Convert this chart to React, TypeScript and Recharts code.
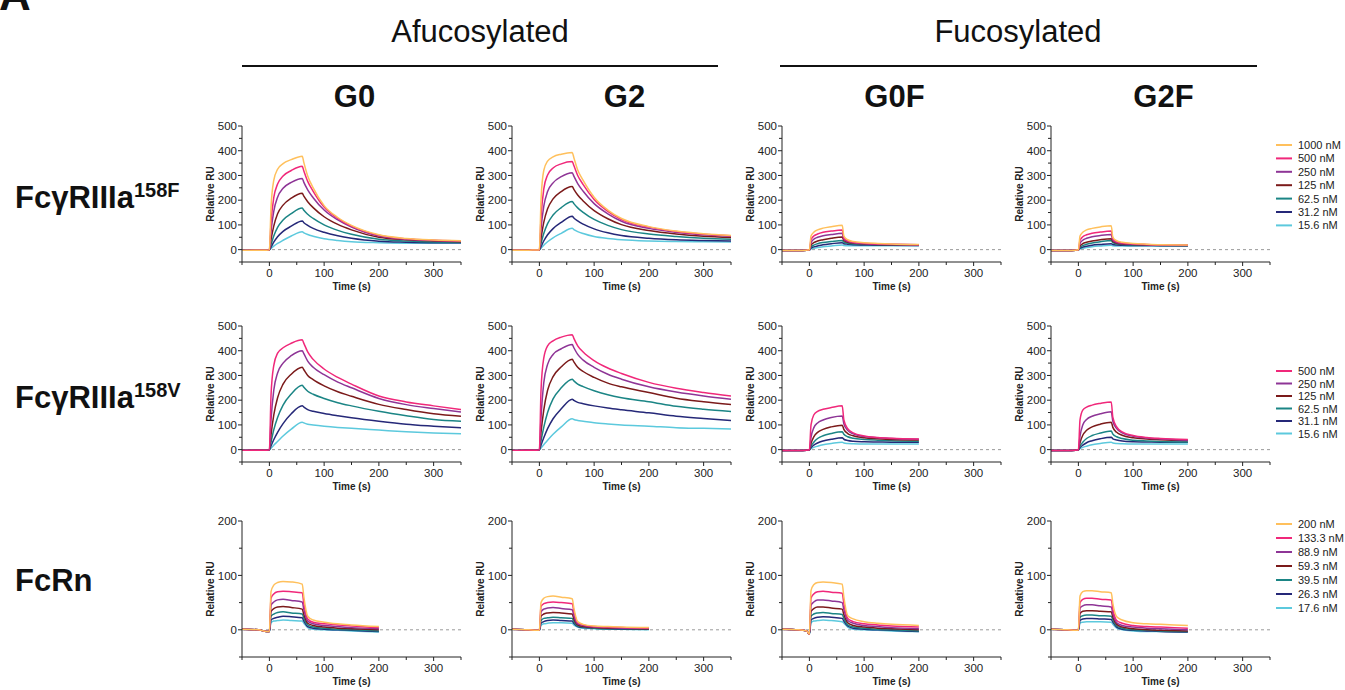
import { LineChart, Line, XAxis, YAxis, ReferenceLine } from 'recharts';

// time grids (s)
const T_LONG = [-50, -20, -5, 0, 3, 8, 15, 25, 40, 60, 63, 70, 80, 100, 125, 150, 200, 250, 300, 350];
const T_SHORT = [-50, -20, -5, 0, 3, 8, 15, 25, 40, 60, 63, 70, 80, 100, 125, 150, 200];

const CONC_158F = ['1000 nM', '500 nM', '250 nM', '125 nM', '62.5 nM', '31.2 nM', '15.6 nM'];
const CONC_158V = ['500 nM', '250 nM', '125 nM', '62.5 nM', '31.1 nM', '15.6 nM'];
const CONC_FCRN = ['200 nM', '133.3 nM', '88.9 nM', '59.3 nM', '39.5 nM', '26.3 nM', '17.6 nM'];

const COLORS7 = ['#FFC05C', '#F0287A', '#8E3596', '#7B1A1A', '#1B8585', '#252878', '#5CC9DD'];
const COLORS6 = ['#F0287A', '#8E3596', '#7B1A1A', '#1B8585', '#252878', '#5CC9DD'];

// FcγRIIIa 158F
const G0_158F = [
  [-3, -2, -2, -1, 170, 280, 325, 348, 364, 378, 352, 298, 250, 178, 130, 98, 60, 45, 39, 36],
  [-3, -2, -2, -1, 110, 210, 265, 298, 320, 337, 318, 276, 236, 172, 126, 95, 58, 44, 38, 35],
  [-3, -2, -2, -1, 75, 155, 212, 248, 272, 288, 272, 242, 210, 160, 120, 91, 55, 42, 37, 34],
  [-3, -2, -2, -1, 40, 95, 145, 180, 208, 228, 216, 194, 170, 133, 102, 80, 50, 40, 35, 32],
  [-3, -2, -2, -1, 20, 55, 90, 120, 146, 168, 159, 143, 126, 100, 78, 62, 42, 35, 31, 30],
  [-3, -2, -2, -1, 10, 30, 52, 74, 95, 116, 109, 98, 86, 70, 56, 46, 34, 30, 28, 28],
  [-3, -2, -2, -1, 5, 14, 25, 38, 55, 72, 68, 61, 54, 44, 37, 32, 28, 26, 26, 26],
];
const G2_158F = [
  [-2, -2, -1, -1, 200, 320, 358, 375, 386, 393, 372, 322, 280, 212, 160, 126, 93, 75, 64, 57],
  [-2, -2, -1, -1, 130, 245, 302, 330, 347, 356, 340, 300, 263, 203, 155, 122, 91, 73, 62, 56],
  [-2, -2, -1, -1, 85, 175, 235, 270, 295, 311, 297, 267, 236, 186, 145, 115, 86, 70, 60, 54],
  [-2, -2, -1, -1, 45, 110, 165, 205, 235, 255, 244, 221, 197, 158, 125, 101, 77, 63, 54, 49],
  [-2, -2, -1, -1, 25, 65, 105, 140, 170, 195, 186, 169, 151, 122, 98, 81, 63, 53, 46, 42],
  [-2, -2, -1, -1, 12, 35, 60, 85, 110, 135, 128, 116, 103, 84, 68, 57, 46, 40, 37, 35],
  [-2, -2, -1, -1, 6, 18, 32, 48, 66, 86, 81, 73, 65, 53, 45, 40, 35, 33, 32, 31],
];
const G0F_158F = [
  [-3, -3, -2, -1, 55, 70, 80, 87, 93, 99, 55, 40, 33, 28, 25, 23, 21],
  [-3, -3, -2, -1, 40, 55, 63, 70, 75, 79, 47, 36, 30, 26, 23, 22, 20],
  [-3, -3, -2, -1, 28, 42, 50, 56, 61, 66, 42, 33, 28, 24, 22, 21, 20],
  [-3, -3, -2, -1, 18, 28, 35, 40, 46, 51, 37, 30, 26, 23, 21, 20, 19],
  [-3, -3, -2, -1, 10, 18, 24, 29, 33, 37, 30, 26, 23, 21, 20, 19, 18],
  [-3, -3, -2, -1, 6, 11, 15, 20, 24, 28, 24, 22, 20, 19, 18, 18, 17],
  [-3, -3, -2, -1, 3, 6, 9, 12, 15, 19, 17, 16, 16, 16, 16, 16, 16],
];
const G2F_158F = [
  [-3, -3, -2, -1, 55, 70, 80, 86, 92, 97, 50, 36, 30, 25, 22, 20, 19],
  [-3, -3, -2, -1, 38, 52, 60, 66, 71, 75, 44, 32, 27, 23, 21, 19, 18],
  [-3, -3, -2, -1, 25, 38, 46, 52, 57, 61, 38, 29, 25, 22, 20, 19, 18],
  [-3, -3, -2, -1, 14, 24, 30, 35, 40, 44, 33, 26, 23, 21, 19, 18, 17],
  [-3, -3, -2, -1, 8, 16, 22, 27, 32, 37, 28, 23, 21, 19, 18, 17, 17],
  [-3, -3, -2, -1, 5, 10, 14, 18, 21, 24, 21, 19, 18, 17, 17, 16, 16],
  [-3, -3, -2, -1, 3, 6, 9, 12, 15, 18, 16, 15, 15, 15, 15, 15, 15],
];

// FcγRIIIa 158V
const G0_158V = [
  [-3, -2, -2, -1, 220, 340, 390, 412, 430, 444, 430, 395, 365, 326, 292, 265, 217, 193, 177, 162],
  [-3, -2, -2, -1, 120, 240, 310, 350, 380, 400, 388, 358, 333, 303, 273, 250, 207, 182, 166, 152],
  [-3, -2, -2, -1, 60, 140, 210, 265, 305, 333, 323, 300, 283, 258, 234, 216, 183, 162, 145, 135],
  [-3, -2, -2, -1, 30, 80, 130, 180, 225, 260, 252, 236, 224, 207, 190, 177, 155, 137, 122, 115],
  [-3, -2, -2, -1, 15, 40, 70, 105, 145, 177, 172, 162, 155, 146, 137, 129, 115, 103, 95, 88],
  [-3, -2, -2, -1, 6, 18, 33, 55, 83, 111, 108, 103, 100, 95, 90, 86, 79, 72, 67, 64],
];
const G2_158V = [
  [-3, -2, -2, -1, 240, 370, 420, 440, 455, 465, 450, 420, 395, 360, 330, 308, 272, 248, 231, 217],
  [-3, -2, -2, -1, 130, 270, 345, 385, 408, 425, 412, 385, 362, 333, 305, 285, 254, 233, 217, 204],
  [-3, -2, -2, -1, 70, 160, 240, 295, 335, 366, 355, 333, 316, 292, 269, 254, 231, 208, 194, 183],
  [-3, -2, -2, -1, 35, 90, 150, 205, 250, 285, 278, 265, 255, 238, 222, 210, 194, 175, 163, 154],
  [-3, -2, -2, -1, 18, 48, 85, 125, 165, 204, 199, 191, 186, 177, 168, 161, 149, 135, 126, 118],
  [-3, -2, -2, -1, 7, 20, 38, 62, 92, 125, 122, 118, 115, 109, 104, 100, 95, 89, 86, 83],
];
const G0F_158V = [
  [-3, -3, -2, -1, 100, 140, 155, 163, 170, 177, 120, 85, 68, 55, 49, 46, 43],
  [-3, -3, -2, -1, 50, 88, 108, 120, 130, 136, 105, 78, 64, 53, 48, 45, 42],
  [-3, -3, -2, -1, 25, 52, 70, 82, 92, 99, 82, 65, 56, 48, 44, 41, 39],
  [-3, -3, -2, -1, 14, 30, 45, 56, 65, 72, 62, 52, 46, 41, 38, 36, 34],
  [-3, -3, -2, -1, 8, 18, 27, 35, 42, 48, 42, 37, 34, 32, 31, 30, 30],
  [-3, -3, -2, -1, 4, 9, 14, 20, 25, 30, 27, 25, 24, 23, 23, 23, 23],
];
const G2F_158V = [
  [-3, -3, -2, -1, 120, 160, 172, 180, 187, 193, 130, 92, 72, 57, 49, 45, 41],
  [-3, -3, -2, -1, 55, 100, 122, 135, 145, 153, 115, 85, 68, 54, 47, 43, 38],
  [-3, -3, -2, -1, 28, 58, 78, 92, 103, 111, 90, 70, 58, 48, 43, 40, 37],
  [-3, -3, -2, -1, 14, 30, 45, 57, 67, 75, 63, 52, 45, 38, 35, 33, 31],
  [-3, -3, -2, -1, 8, 18, 28, 36, 44, 50, 44, 39, 35, 32, 31, 30, 30],
  [-3, -3, -2, -1, 4, 9, 14, 20, 25, 30, 27, 25, 24, 23, 23, 23, 23],
];

// FcRn
const G0_FCRN = [
  [1, 0, -3, -3, 70, 82, 87, 89, 88, 84, 60, 25, 18, 14, 11, 9, 6],
  [1, 0, -3, -3, 58, 66, 70, 71, 70, 68, 48, 20, 14, 11, 9, 7, 4],
  [1, 0, -3, -3, 45, 51, 55, 56, 54, 51, 37, 16, 11, 8, 6, 4, 2],
  [1, 0, -3, -3, 34, 39, 42, 43, 41, 38, 28, 12, 8, 5, 3, 2, 0],
  [1, 0, -3, -3, 25, 29, 32, 33, 31, 29, 21, 9, 5, 3, 1, 0, -2],
  [1, 0, -3, -3, 18, 21, 23, 25, 24, 22, 16, 6, 3, 1, 0, -1, -3],
  [1, 0, -3, -3, 13, 16, 17, 18, 17, 16, 12, 4, 1, 0, -1, -2, -4],
];
const G2_FCRN = [
  [1, 0, -1, -1, 50, 58, 61, 62, 60, 57, 40, 15, 10, 7, 6, 5, 4],
  [1, 0, -1, -1, 43, 48, 50, 51, 50, 48, 34, 13, 9, 6, 5, 4, 3],
  [1, 0, -1, -1, 33, 38, 40, 41, 39, 37, 26, 11, 8, 5, 4, 3, 3],
  [1, 0, -1, -1, 25, 29, 31, 32, 31, 29, 20, 9, 6, 4, 3, 3, 2],
  [1, 0, -1, -1, 17, 21, 22, 23, 22, 21, 15, 7, 5, 3, 2, 2, 2],
  [1, 0, -1, -1, 12, 15, 17, 18, 17, 16, 12, 6, 4, 3, 2, 1, 1],
  [1, 0, -1, -1, 8, 11, 12, 13, 13, 12, 9, 5, 3, 2, 1, 1, 0],
];
const G0F_FCRN = [
  [1, 0, -2, -8, 72, 83, 87, 88, 87, 84, 60, 26, 20, 15, 12, 10, 8],
  [1, 0, -2, -8, 58, 66, 70, 71, 69, 67, 48, 21, 15, 11, 9, 7, 5],
  [1, 0, -2, -8, 45, 51, 55, 55, 53, 50, 37, 17, 12, 8, 6, 4, 2],
  [1, 0, -2, -8, 34, 39, 42, 42, 40, 38, 28, 13, 8, 5, 3, 2, 0],
  [1, 0, -2, -8, 25, 29, 31, 32, 30, 28, 21, 9, 5, 3, 1, 0, -2],
  [1, 0, -2, -8, 18, 21, 23, 24, 23, 21, 16, 7, 3, 1, 0, -1, -3],
  [1, 0, -2, -8, 13, 16, 17, 18, 17, 15, 12, 5, 1, 0, -1, -2, -3],
];
const G2F_FCRN = [
  [1, 0, -1, -1, 62, 70, 72, 72, 70, 68, 48, 24, 18, 13, 11, 10, 8],
  [1, 0, -1, -1, 50, 56, 58, 58, 56, 55, 38, 17, 12, 8, 6, 5, 3],
  [1, 0, -1, -1, 40, 44, 46, 46, 44, 42, 30, 13, 8, 5, 3, 2, 0],
  [1, 0, -1, -1, 30, 34, 35, 35, 34, 33, 23, 10, 5, 2, 0, -1, -2],
  [1, 0, -1, -1, 23, 26, 27, 27, 26, 25, 18, 7, 3, 0, -1, -2, -3],
  [1, 0, -1, -1, 17, 20, 21, 21, 20, 19, 14, 5, 1, -1, -2, -3, -4],
  [1, 0, -1, -1, 12, 14, 15, 15, 15, 14, 10, 3, 0, -2, -3, -3, -4],
];

const X_TICKS = [-50, 0, 50, 100, 150, 200, 250, 300, 350];
const Y_TICKS_500 = [-50, 0, 50, 100, 150, 200, 250, 300, 350, 400, 450, 500];
const Y_TICKS_200 = [-50, 0, 50, 100, 150, 200];

const FONT = '"Liberation Sans", Arial, sans-serif';
const PW = 219; // plot width
const PH = 136; // plot height
const ML = 45;
const MT = 10;
const COL_X = [242, 512, 782, 1051];
const ROW_Y = [126, 326, 521];

function YTick({ y, payload }: any) {
  const v = payload.value;
  const major = v % 100 === 0;
  return (
    <g>
      <line x1={ML} x2={ML - (major ? 4 : 3)} y1={y} y2={y} stroke="#222" />
      {major && (
        <text x={ML - 5} y={y} dy="0.36em" textAnchor="end" fontSize={11.5} fill="#222" fontFamily={FONT}>
          {v}
        </text>
      )}
    </g>
  );
}

function XTick({ x, payload }: any) {
  const v = payload.value;
  const major = v % 100 === 0;
  const ay = MT + PH;
  return (
    <g>
      <line x1={x} x2={x} y1={ay} y2={ay + (major ? 4 : 3)} stroke="#222" />
      {major && (
        <text x={x} y={ay + 15} textAnchor="middle" fontSize={11.5} fill="#222" fontFamily={FONT}>
          {v}
        </text>
      )}
    </g>
  );
}

function Panel({ col, row, times, curves, colors, yMax }: any) {
  const data = times.map((t: number, i: number) => {
    const r: any = { t };
    curves.forEach((c: number[], k: number) => (r['c' + k] = c[i]));
    return r;
  });
  const order = curves.map((_: any, k: number) => k).reverse();
  return (
    <div style={{ position: 'absolute', left: COL_X[col] - ML, top: ROW_Y[row] - MT }}>
      <LineChart width={ML + PW + 10} height={MT + PH + 40} data={data} margin={{ top: MT, right: 10, left: 0, bottom: 0 }}>
        <XAxis
          type="number"
          dataKey="t"
          domain={[-50, 350]}
          ticks={X_TICKS}
          interval={0}
          tick={(p: any) => <XTick {...p} />}
          tickLine={false}
          axisLine={{ stroke: '#222' }}
          height={40}
          allowDataOverflow
        />
        <YAxis
          type="number"
          domain={[-50, yMax]}
          ticks={yMax === 500 ? Y_TICKS_500 : Y_TICKS_200}
          interval={0}
          tick={(p: any) => <YTick {...p} />}
          tickLine={false}
          axisLine={{ stroke: '#222' }}
          width={ML}
          allowDataOverflow
        />
        <ReferenceLine y={0} stroke="#9a9a9a" strokeDasharray="3 3" />
        {order.map((k: number) => (
          <Line
            key={k}
            type="monotone"
            dataKey={'c' + k}
            stroke={colors[k]}
            strokeWidth={1.5}
            dot={false}
            isAnimationActive={false}
          />
        ))}
      </LineChart>
    </div>
  );
}

function Legend({ labels, colors, y0, step }: any) {
  return (
    <g>
      {labels.map((l: string, i: number) => (
        <g key={l}>
          <line x1={1276} x2={1292} y1={y0 + i * step} y2={y0 + i * step} stroke={colors[i]} strokeWidth={2} />
          <text x={1298} y={y0 + i * step + 4} fontSize={11} fill="#222">
            {l}
          </text>
        </g>
      ))}
    </g>
  );
}

const COL_TITLES = ['G0', 'G2', 'G0F', 'G2F'];
const ROW_SUPS = ['158F', '158V'];

export default function App() {
  const rows = [
    { sets: [G0_158F, G2_158F, G0F_158F, G2F_158F], colors: COLORS7, yMax: 500 },
    { sets: [G0_158V, G2_158V, G0F_158V, G2F_158V], colors: COLORS6, yMax: 500 },
    { sets: [G0_FCRN, G2_FCRN, G0F_FCRN, G2F_FCRN], colors: COLORS7, yMax: 200 },
  ];
  return (
    <div style={{ position: 'absolute', left: 0, top: 0, width: 1345, height: 690, background: '#fff', fontFamily: FONT }}>
      {rows.map((r, ri) =>
        r.sets.map((set, ci) => (
          <Panel
            key={ri + '-' + ci}
            row={ri}
            col={ci}
            curves={set}
            colors={r.colors}
            yMax={r.yMax}
            times={set[0].length === T_LONG.length ? T_LONG : T_SHORT}
          />
        ))
      )}
      <svg width={1345} height={690} style={{ position: 'absolute', left: 0, top: 0, pointerEvents: 'none' }} fontFamily={FONT}>
        <text x={-1} y={10} fontSize={44} fontWeight="bold" fill="#111">A</text>
        <text x={480} y={42} fontSize={31} textAnchor="middle" fill="#111">Afucosylated</text>
        <text x={1018} y={42} fontSize={31} textAnchor="middle" fill="#111">Fucosylated</text>
        <line x1={242} x2={718} y1={66} y2={66} stroke="#111" strokeWidth={2} />
        <line x1={780} x2={1257} y1={66} y2={66} stroke="#111" strokeWidth={2} />
        {COL_TITLES.map((t, i) => (
          <text key={t} x={COL_X[i] + PW / 2 + 3} y={107} fontSize={31} fontWeight="bold" textAnchor="middle" fill="#111">
            {t}
          </text>
        ))}
        {ROW_SUPS.map((s, i) => (
          <text key={s} x={15} y={208 + i * 200} fontSize={31} fontWeight="bold" fill="#111">
            FcγRIIIa
            <tspan fontSize={20} dy={-11}>{s}</tspan>
          </text>
        ))}
        <text x={15} y={591} fontSize={31} fontWeight="bold" fill="#111">FcRn</text>
        {ROW_Y.map((ry) =>
          COL_X.map((cx) => (
            <g key={ry + '-' + cx}>
              <text
                x={cx - 28}
                y={ry + PH / 2}
                fontSize={10}
                fontWeight="bold"
                textAnchor="middle"
                fill="#222"
                transform={`rotate(-90 ${cx - 28} ${ry + PH / 2})`}
              >
                Relative RU
              </text>
              <text x={cx + PW / 2} y={ry + PH + 28} fontSize={10} fontWeight="bold" textAnchor="middle" fill="#222">
                Time (s)
              </text>
            </g>
          ))
        )}
        <Legend labels={CONC_158F} colors={COLORS7} y0={145} step={13.4} />
        <Legend labels={CONC_158V} colors={COLORS6} y0={371} step={12.5} />
        <Legend labels={CONC_FCRN} colors={COLORS7} y0={524} step={14} />
      </svg>
    </div>
  );
}
